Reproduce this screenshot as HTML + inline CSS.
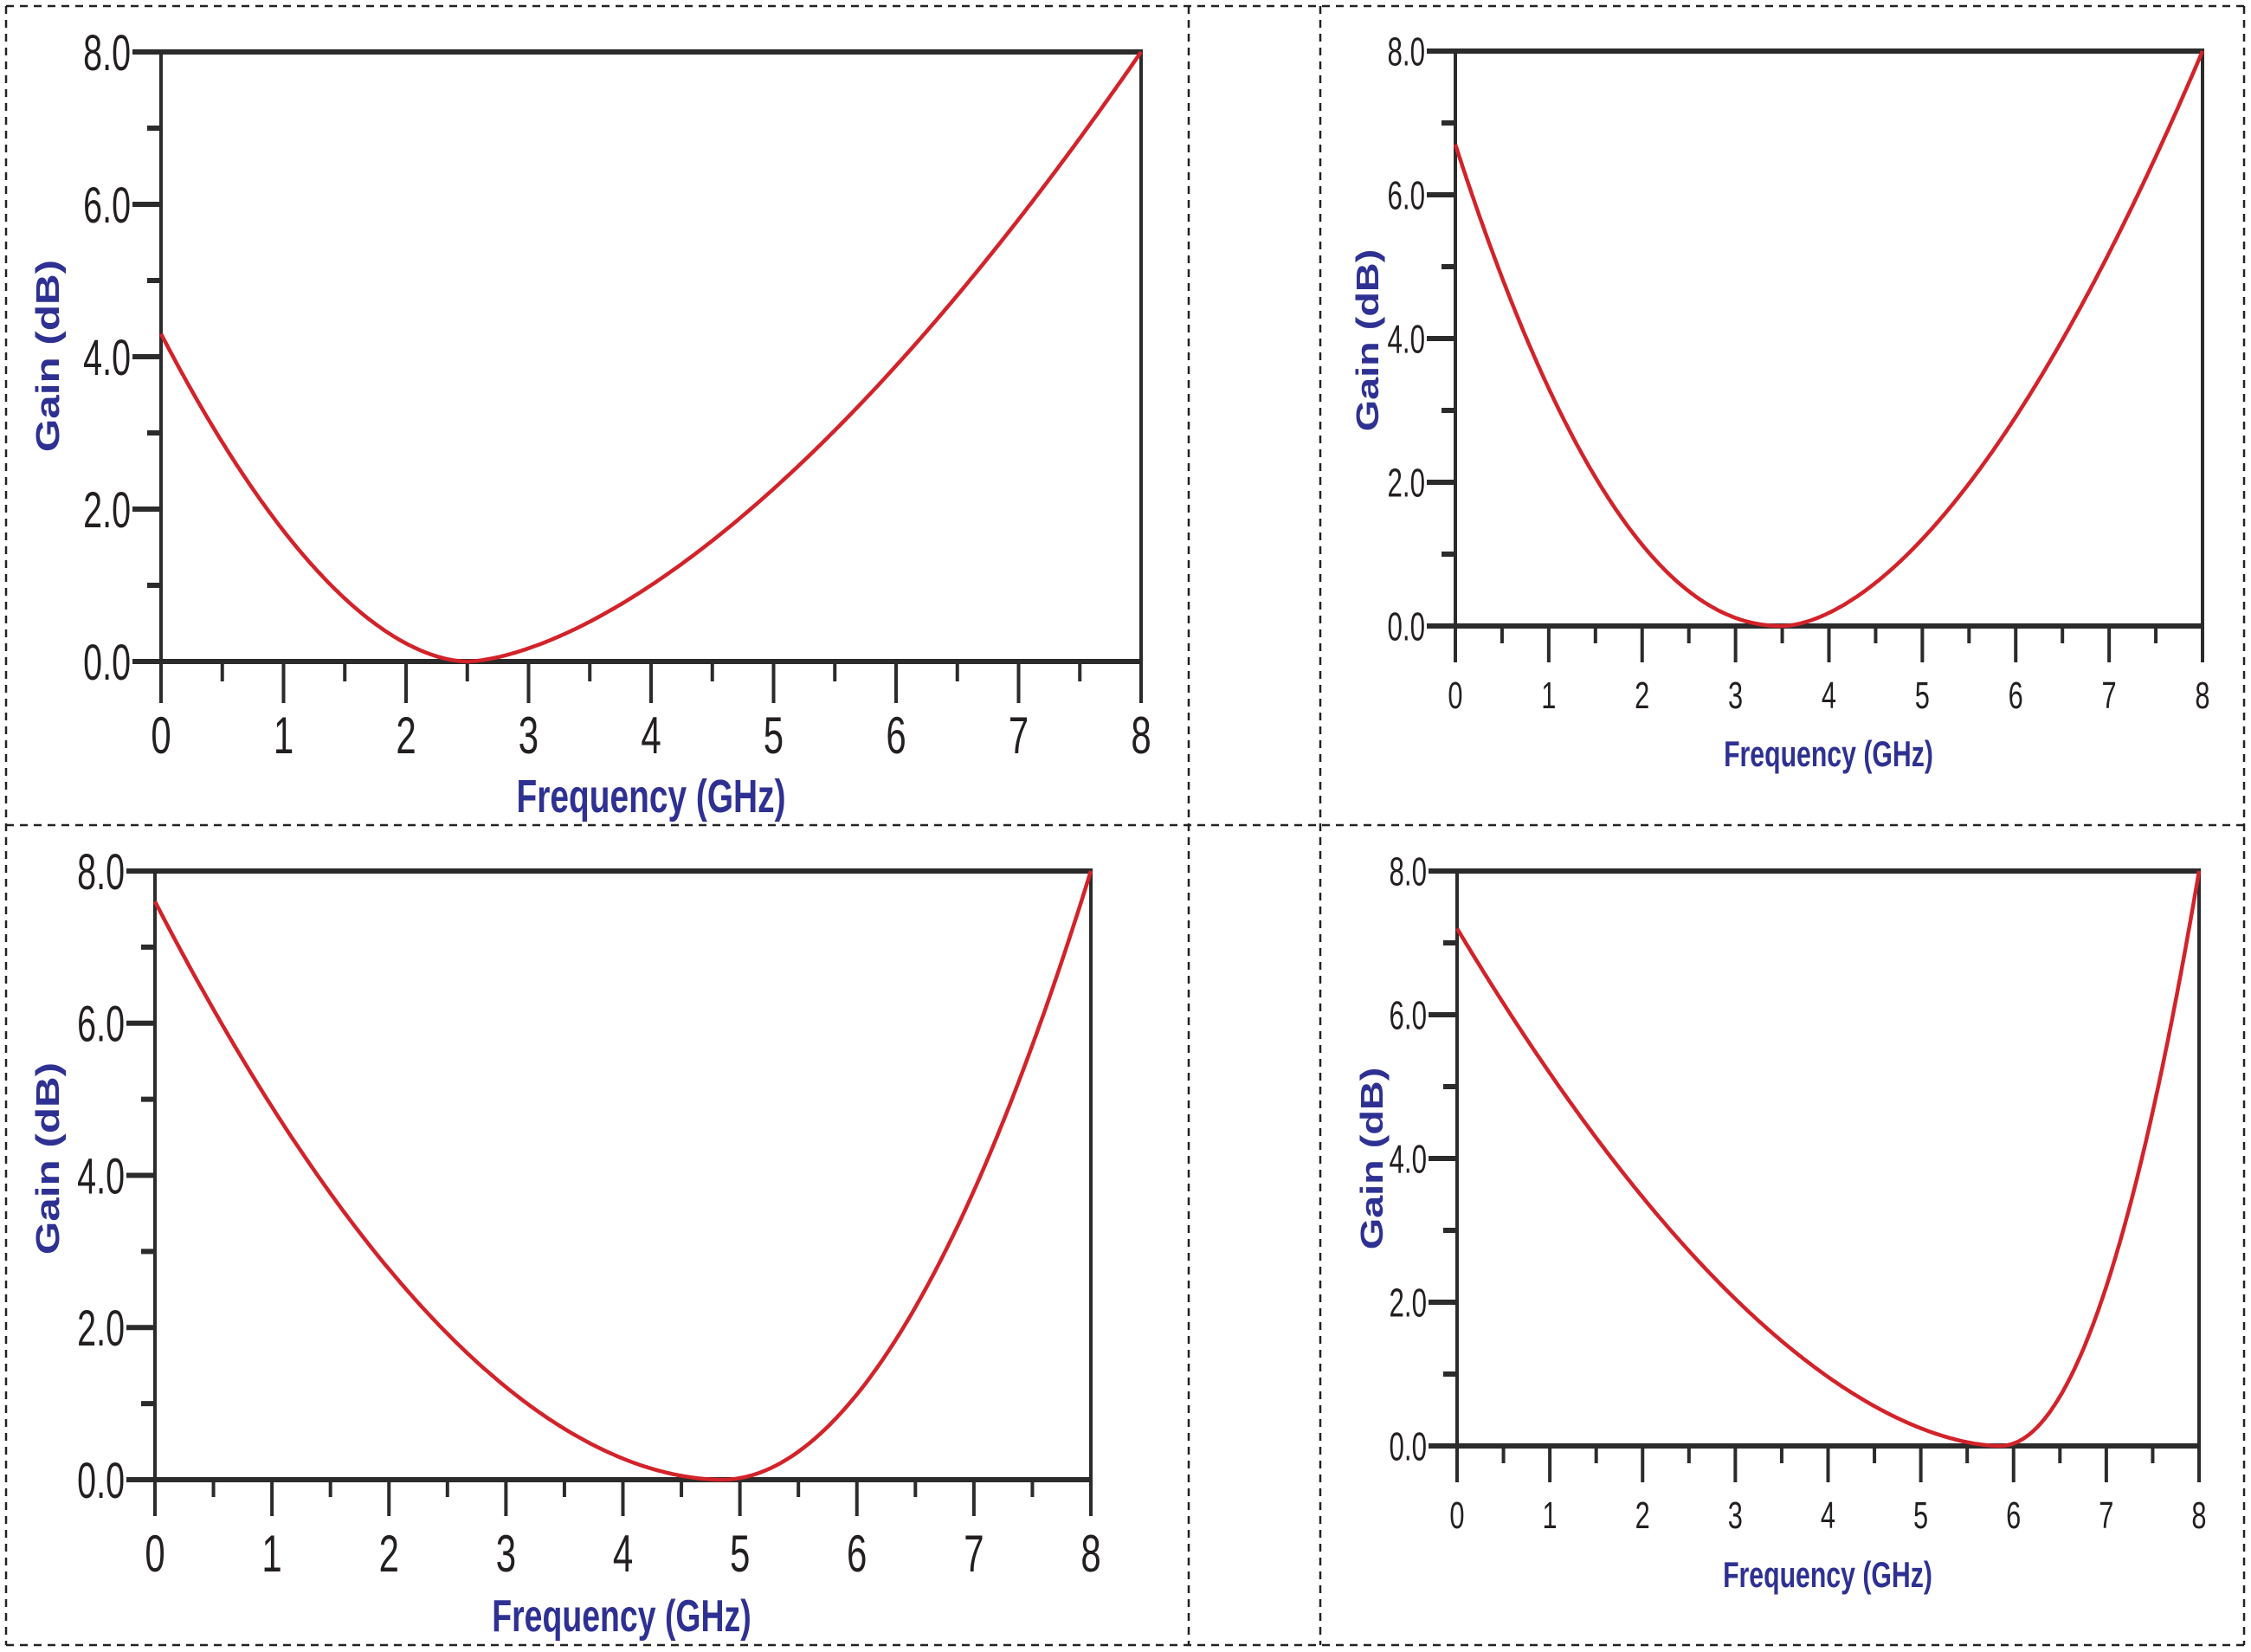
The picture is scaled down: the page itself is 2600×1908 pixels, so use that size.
<!DOCTYPE html>
<html><head><meta charset="utf-8"><style>
html,body{margin:0;padding:0;background:#fff;}
svg{display:block;}
.tk{font-family:"Liberation Sans",sans-serif;fill:#231f20;}
.ttl{font-family:"Liberation Sans",sans-serif;font-weight:bold;fill:#2e3192;}
</style></head><body>
<svg id="s" width="2600" height="1908" viewBox="0 0 2600 1908" xmlns="http://www.w3.org/2000/svg">
<g stroke="#222" stroke-width="2.5" stroke-dasharray="9,7" fill="none">
<line x1="7" y1="7" x2="2592" y2="7"/>
<line x1="7" y1="953" x2="2592" y2="953"/>
<line x1="7" y1="1900" x2="2592" y2="1900"/>
<line x1="7" y1="7" x2="7" y2="1900"/>
<line x1="1373" y1="7" x2="1373" y2="1900"/>
<line x1="1525" y1="7" x2="1525" y2="1900"/>
<line x1="2592" y1="7" x2="2592" y2="1900"/>
</g>
</svg>
<script>
var S=document.getElementById('s'),NS='http://www.w3.org/2000/svg';
function el(t,a,txt){var e=document.createElementNS(NS,t);for(var k in a)e.setAttribute(k,a[k]);if(txt!==undefined)e.textContent=txt;S.appendChild(e);return e;}
function panel(c){
 var X=function(v){return c.x0+(c.x8-c.x0)*v/8;},Y=function(v){return c.y0-(c.y0-c.y8)*v/8;};
 for(var i=1;i<8;i++){var len=(i%2==0)?33:16;el('line',{x1:c.x0-len,y1:Y(i),x2:c.x0,y2:Y(i),stroke:'#2b2b2b','stroke-width':6});}
 for(var i=0;i<=8;i+=2){el('text',{class:'tk','font-size':c.yf,x:c.x0-35,y:Y(i)+c.yf*0.36,'text-anchor':'end',transform:'translate('+(c.x0-35)+',0) scale(0.68,1) translate('+(-(c.x0-35))+',0)'},i.toFixed(1));}
 for(var i=0;i<=16;i++){var len=(i%2==0)?c.mj:c.mn;el('line',{x1:X(i/2),y1:c.y0,x2:X(i/2),y2:c.y0+len,stroke:'#2b2b2b','stroke-width':4});}
 for(var i=0;i<=8;i++){el('text',{class:'tk',x:X(i),y:c.xl,'text-anchor':'middle','font-size':c.xf,transform:'translate('+X(i)+',0) scale(0.7,1) translate('+(-X(i))+',0)'},String(i));}
 el('line',{x1:c.x0,y1:c.y8,x2:c.x0,y2:c.y0,stroke:'#2b2b2b','stroke-width':4});
 el('line',{x1:c.x8,y1:c.y8,x2:c.x8,y2:c.y0+c.mj,stroke:'#2b2b2b','stroke-width':4});
 el('line',{x1:c.x0-33,y1:c.y8,x2:c.x8+2,y2:c.y8,stroke:'#2b2b2b','stroke-width':6});
 el('line',{x1:c.x0-33,y1:c.y0,x2:c.x8+2,y2:c.y0,stroke:'#2b2b2b','stroke-width':6});
 var d='';for(var k=0;k<=400;k++){var x=8*k/400,v;
  if(x<c.m)v=c.a*Math.pow((c.m-x)/c.m,c.pl);else v=8*Math.pow((x-c.m)/(8-c.m),c.pr);
  d+=(k?'L':'M')+X(x).toFixed(1)+','+Y(v).toFixed(1);}
 el('path',{d:d,fill:'none',stroke:'#d2232a','stroke-width':4.5,'stroke-linejoin':'round'});
 el('text',{class:'ttl',x:c.tx,y:c.ty,'text-anchor':'middle','font-size':c.tf,transform:'translate('+c.tx+',0) scale(0.72,1) translate('+(-c.tx)+',0)'},'Frequency (GHz)');
 el('text',{class:'ttl',x:0,y:0,'text-anchor':'middle','font-size':c.gf,transform:'translate('+c.gx+','+c.gy+') rotate(-90) scale(1.3,1)'},'Gain (dB)');
}
panel({x0:186,x8:1318,y8:60,y0:764,mj:48,mn:23,xl:870,xf:60,yf:58,m:2.5,a:4.3,pl:1.8,pr:1.6,tx:752,ty:938,tf:54,gx:68,gy:411,gf:38});
panel({x0:1681,x8:2544,y8:59,y0:723,mj:42,mn:20,xl:818,xf:44,yf:46,m:3.5,a:6.7,pl:2.1,pr:1.72,tx:2112,ty:885,tf:42,gx:1592,gy:393,gf:36});
panel({x0:179,x8:1260,y8:1006,y0:1709,mj:42,mn:20,xl:1815,xf:60,yf:58,m:4.85,a:7.6,pl:1.9,pr:1.95,tx:718,ty:1884,tf:52,gx:68,gy:1338,gf:38});
panel({x0:1683,x8:2540,y8:1006,y0:1670,mj:42,mn:20,xl:1765,xf:44,yf:46,m:5.85,a:7.2,pl:1.75,pr:2.05,tx:2111,ty:1833,tf:42,gx:1597,gy:1338,gf:36});
</script>
</body></html>
